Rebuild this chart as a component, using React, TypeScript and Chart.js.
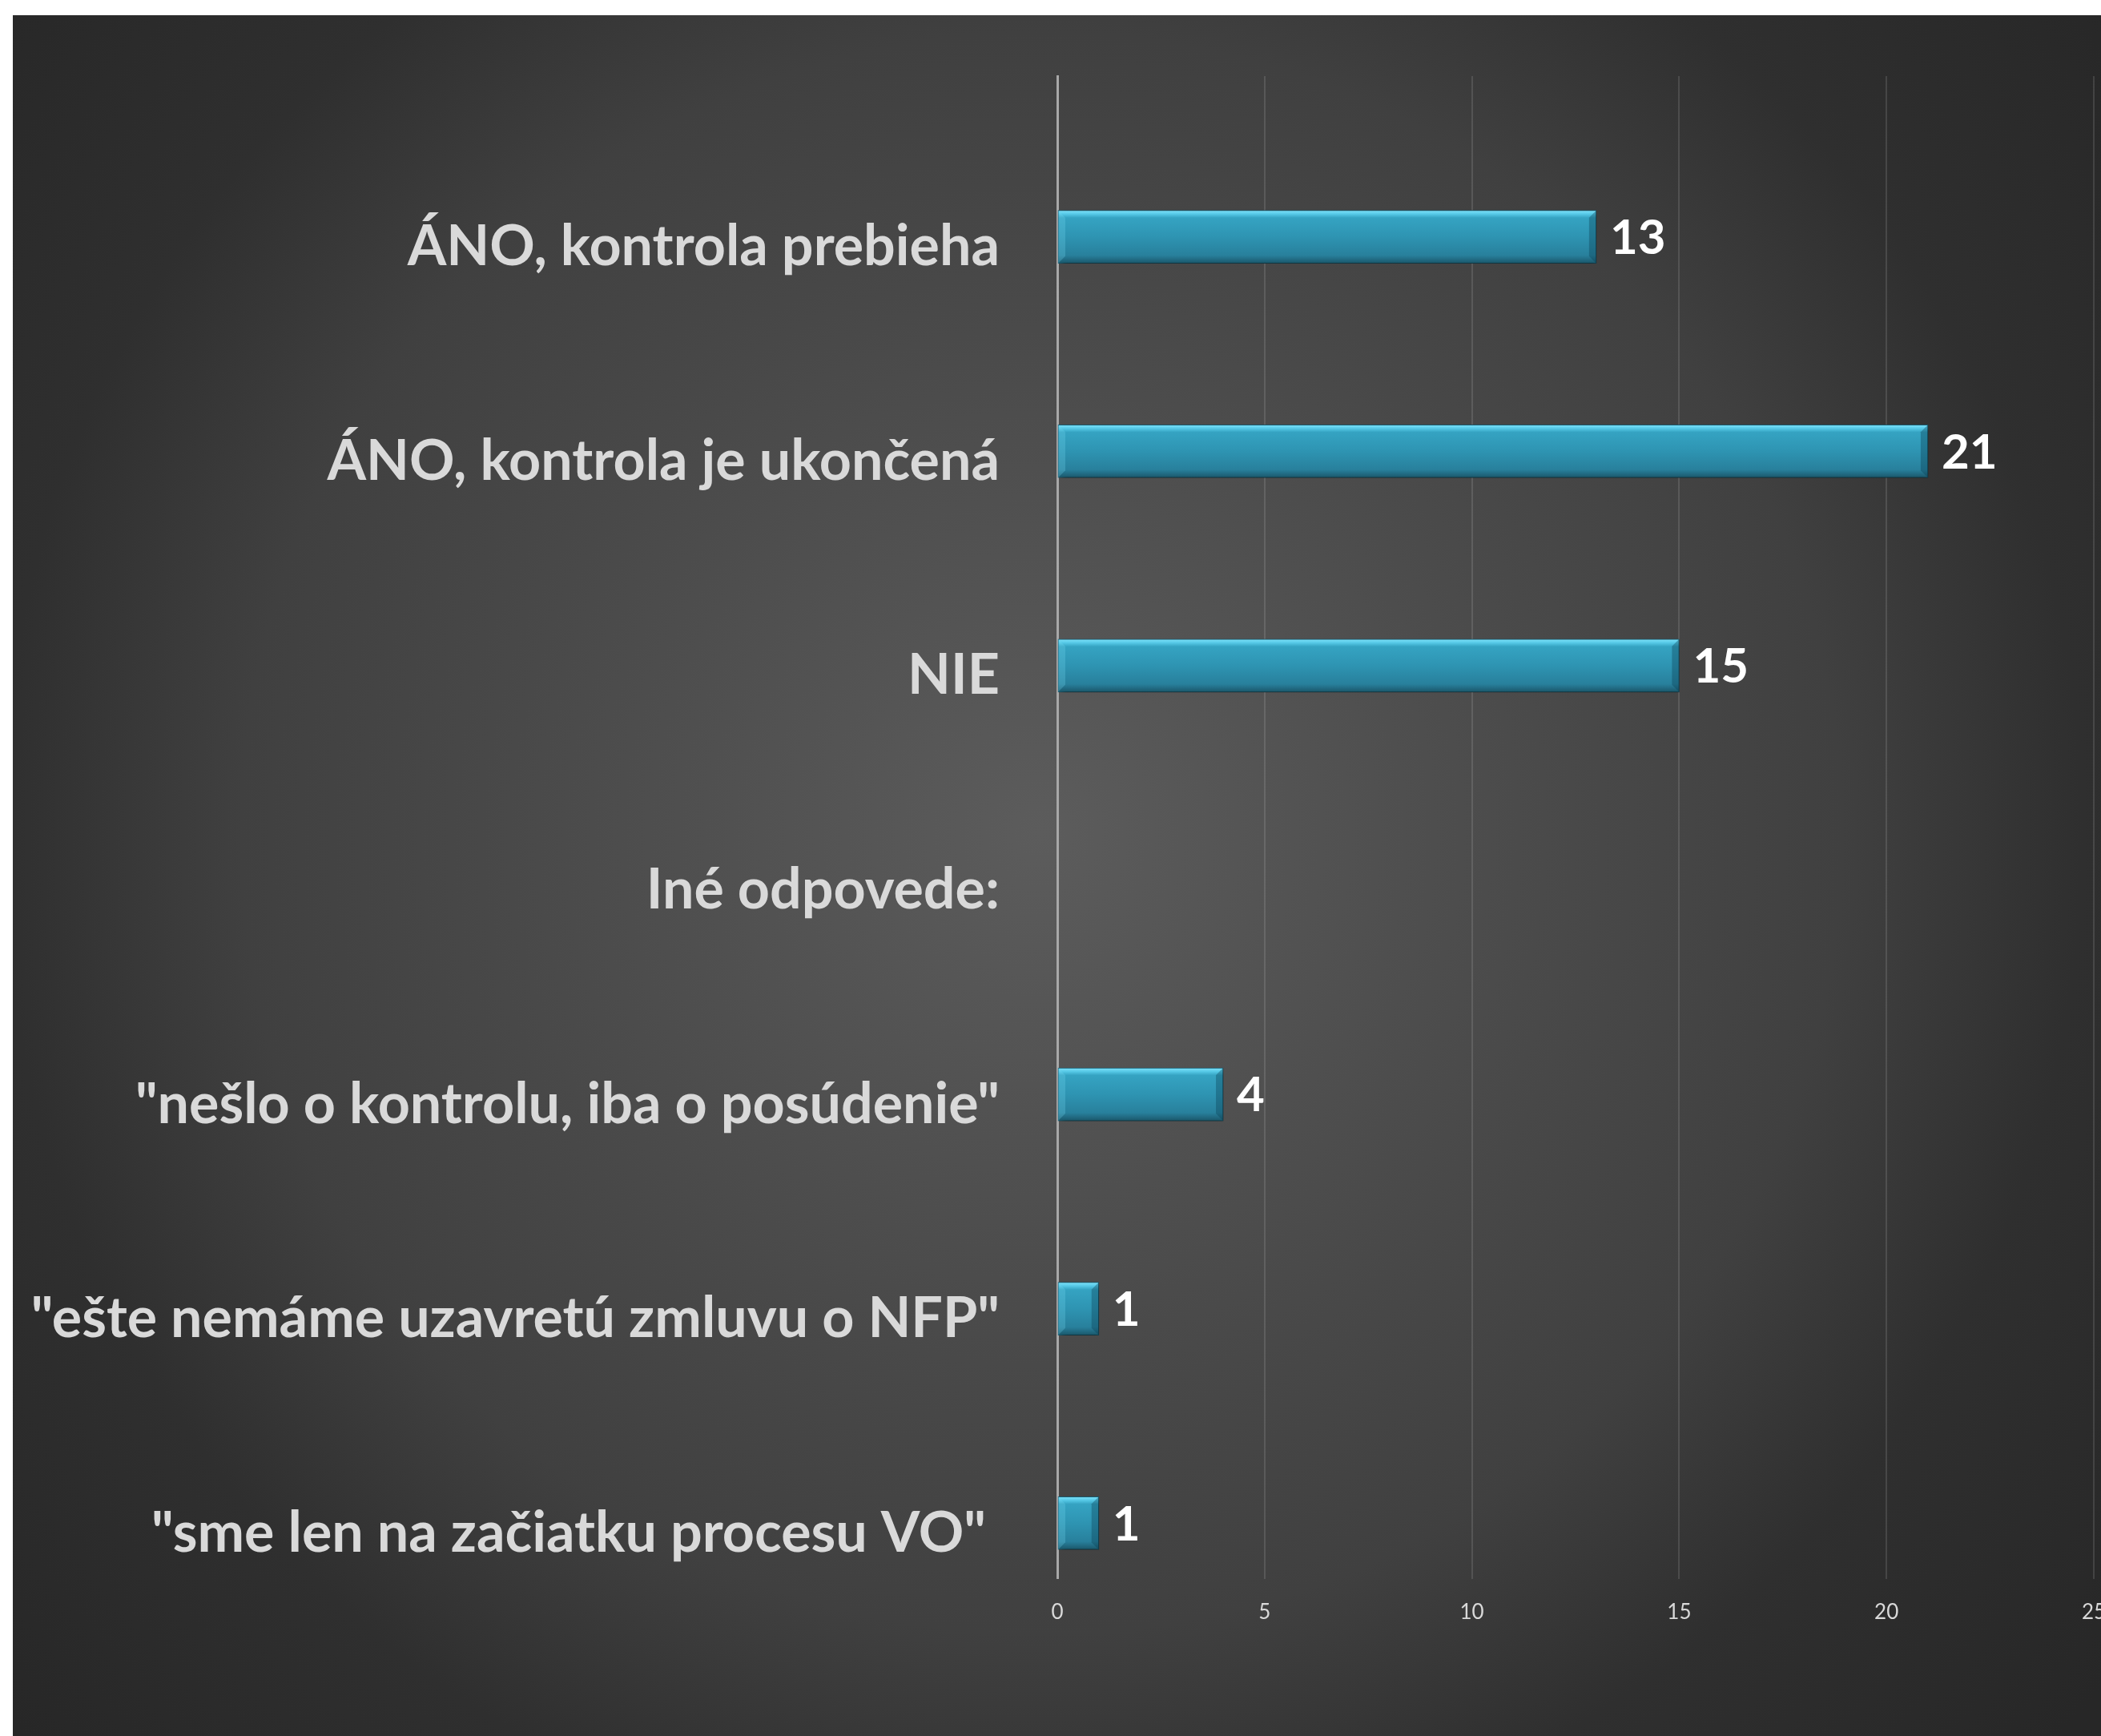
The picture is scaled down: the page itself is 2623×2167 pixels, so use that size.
import React, { useEffect, useRef } from "react";
import { Chart, registerables } from "chart.js";

Chart.register(...registerables);

const categories = [
  "ÁNO, kontrola prebieha",
  "ÁNO, kontrola je ukončená",
  "NIE",
  "Iné odpovede:",
  "\"nešlo o kontrolu, iba o posúdenie\"",
  "\"ešte nemáme uzavretú zmluvu o NFP\"",
  "\"sme len na začiatku procesu VO\" ",
];
const counts: (number | null)[] = [13, 21, 15, null, 4, 1, 1];
const xTickValues = [0, 5, 10, 15, 20, 25];

const CANVAS_W = 2640;
const CANVAS_H = 2148;
const BAR_H = 66;

const shadowPlugin = {
  id: "barShadow",
  beforeDatasetsDraw(chart: any) {
    const c = chart.ctx;
    c.save();
    c.shadowColor = "rgba(0,0,0,0.55)";
    c.shadowBlur = 8;
    c.shadowOffsetX = 3;
    c.shadowOffsetY = 4;
  },
  afterDatasetsDraw(chart: any) {
    chart.ctx.restore();
  },
};

const bevelPlugin = {
  id: "barBevel",
  afterDatasetsDraw(chart: any) {
    const c = chart.ctx;
    const meta = chart.getDatasetMeta(0);
    meta.data.forEach((el: any) => {
      const left = el.base;
      const right = el.x;
      const top = el.y - el.height / 2;
      const bottom = el.y + el.height / 2;
      const b = 9;
      c.save();
      c.fillStyle = "rgba(10,60,80,0.35)";
      c.beginPath();
      c.moveTo(right, top);
      c.lineTo(right - b, top + b);
      c.lineTo(right - b, bottom - b);
      c.lineTo(right, bottom);
      c.closePath();
      c.fill();
      c.fillStyle = "rgba(120,220,245,0.25)";
      c.beginPath();
      c.moveTo(left, top);
      c.lineTo(left + b, top + b);
      c.lineTo(left + b, bottom - b);
      c.lineTo(left, bottom);
      c.closePath();
      c.fill();
      c.restore();
    });
  },
};

const valueLabelPlugin = {
  id: "valueLabels",
  afterDatasetsDraw(chart: any) {
    const c = chart.ctx;
    const meta = chart.getDatasetMeta(0);
    const ds = chart.data.datasets[0].data as any[];
    c.save();
    c.font = "bold 60px Lato";
    c.fillStyle = "#ffffff";
    c.textAlign = "left";
    c.textBaseline = "middle";
    meta.data.forEach((el: any, i: number) => {
      c.fillText(String(ds[i].x), el.x + 17, el.y + 2);
    });
    c.restore();
  },
};

export default function App() {
  const ref = useRef<HTMLCanvasElement | null>(null);

  useEffect(() => {
    const canvas = ref.current;
    if (!canvas) return;
    const points = counts
      .map((v, i) => ({ x: v, y: i }))
      .filter((d) => d.x !== null);

    const chart = new Chart(canvas, {
      type: "bar",
      data: {
        datasets: [
          {
            data: points as any,
            barThickness: BAR_H,
            borderWidth: 1,
            borderColor: "#1b5f74",
            borderSkipped: false,
            backgroundColor: (ctx: any) => {
              const ch = ctx.chart;
              if (!ch.chartArea || ctx.type !== "data") return "#2e9ab8";
              const yc = ch.scales.y.getPixelForValue(ctx.raw.y);
              const g = ch.ctx.createLinearGradient(0, yc - BAR_H / 2, 0, yc + BAR_H / 2);
              g.addColorStop(0, "#7fe3fb");
              g.addColorStop(0.07, "#55c8e6");
              g.addColorStop(0.14, "#35a3c2");
              g.addColorStop(0.5, "#2e94b2");
              g.addColorStop(0.85, "#28809c");
              g.addColorStop(0.93, "#216a82");
              g.addColorStop(1, "#1a5769");
              return g;
            },
          } as any,
        ],
      },
      options: {
        indexAxis: "y",
        responsive: false,
        animation: false,
        devicePixelRatio: 1,
        layout: { padding: { left: 0, top: 76, right: 42, bottom: 113 } },
        plugins: {
          legend: { display: false },
          tooltip: { enabled: false },
        },
        scales: {
          x: {
            type: "linear",
            position: "bottom",
            min: 0,
            max: 25,
            afterBuildTicks: (s: any) => {
              s.ticks = xTickValues.map((v) => ({ value: v }));
            },
            grid: { color: "rgba(255,255,255,0.12)", lineWidth: 2, drawTicks: false },
            border: { display: false },
            ticks: {
              color: "#d9d9d9",
              font: { family: "Lato", size: 26 },
              padding: 26,
              autoSkip: false,
              maxRotation: 0,
            },
          },
          y: {
            type: "linear",
            reverse: true,
            offset: false,
            bounds: "data",
            min: -0.75,
            max: 6.26,
            afterBuildTicks: (s: any) => {
              s.ticks = categories.map((_, i) => ({ value: i }));
            },
            afterFit: (s: any) => {
              s.width = 1304;
              s.paddingTop = 0;
              s.paddingBottom = 0;
            },
            grid: { display: false, drawTicks: false, offset: false },
            border: { display: true, color: "#a8a8a8", width: 3 },
            ticks: {
              color: "#d9d9d9",
              font: { family: "Lato", size: 70, weight: "bold" },
              padding: 72,
              labelOffset: 13,
              autoSkip: false,
              callback: (v: any) => categories[v as number] ?? "",
            },
          },
        },
      } as any,
      plugins: [shadowPlugin, bevelPlugin, valueLabelPlugin],
    });
    return () => chart.destroy();
  }, []);

  return (
    <div
      style={{
        position: "absolute",
        left: 16,
        top: 19,
        width: 2607,
        height: 2148,
        overflow: "hidden",
        background:
          "radial-gradient(circle at 1284px 1021px, #5c5c5c 0px, #484848 700px, #404040 1000px, #2f2f2f 1300px, #272727 1700px)",
      }}
    >
      <canvas
        ref={ref}
        width={CANVAS_W}
        height={CANVAS_H}
        style={{ width: CANVAS_W, height: CANVAS_H, display: "block" }}
      />
    </div>
  );
}
